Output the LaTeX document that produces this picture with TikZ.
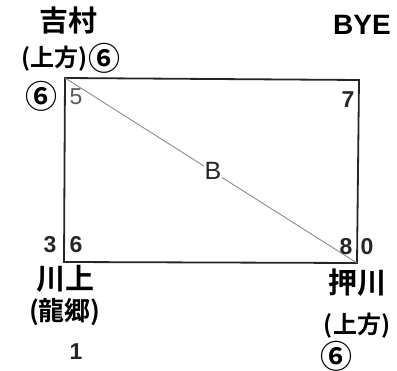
\documentclass[tikz,border=0pt]{standalone}
\usepackage{fontspec}
\setmainfont{Liberation Sans}
\newfontfamily\jp{Noto Sans CJK JP}[BoldFont={Noto Sans CJK JP Bold}]
\begin{document}
\begin{tikzpicture}[x=1pt,y=-1pt,
  tname/.style={font=\jp\bfseries\fontsize{29}{29}\selectfont, inner sep=0pt},
  tsub/.style={font=\jp\bfseries\fontsize{24}{24}\selectfont, inner sep=0pt},
  tnum/.style={font=\bfseries\fontsize{23}{23}\selectfont, inner sep=0pt, text=black!85},
  tcirc/.style={font=\jp\bfseries\fontsize{32}{32}\selectfont, inner sep=0pt,
    text height=23pt, text depth=-1.4pt}]
\useasboundingbox (0,0) rectangle (397,371);
\fill[white] (0,0) rectangle (397,371);
% corners
\coordinate (tl) at (65,78);
\coordinate (tr) at (359,80);
\coordinate (br) at (357,263);
\coordinate (bl) at (64,262);
\draw[line width=1.8pt, black!85, line join=miter] (tl) -- (tr) -- (br) -- (bl) -- cycle;
\draw[line width=0.9pt, black!45] (tl) -- (br);
\node[tnum, font=\fontsize{25}{25}\selectfont, fill=white, inner sep=0.5pt] (b) at (213,171) {B};
% top-left team
\node[tname] (yoshimura) at (68,21) {吉村};
\node[tsub] (yoshisub) at (55,59) {(上方)};
\node[tcirc] (c0) at (104,59) {⑥};
\node[tcirc] (c1) at (42,97) {⑥};
\node[tnum, text=black!65, font=\fontsize{23}{23}\selectfont] (n5) at (76,97) {5};
% top-right
\node[font=\bfseries\fontsize{28}{28}\selectfont, inner sep=0pt] (bye) at (362,25) {BYE};
\node[tnum] (n7) at (348,100) {7};
% bottom-left
\node[tnum] (n3) at (50,245) {3};
\node[tnum] (n6) at (76,245) {6};
\node[tname] (kawakami) at (65,279) {川上};
\node[tsub, font=\jp\bfseries\fontsize{26}{26}\selectfont] (kawasub) at (65,312) {(龍郷)};
\node[tnum] (n1) at (76,352) {1};
% bottom-right
\node[tnum] (n8) at (346,247) {8};
\node[tnum] (n0) at (367,247) {0};
\node[tname] (oshikawa) at (357,283) {押川};
\node[tsub] (oshisub) at (357,326) {(上方)};
\node[tcirc] (c2) at (336,357) {⑥};
\end{tikzpicture}
\end{document}
